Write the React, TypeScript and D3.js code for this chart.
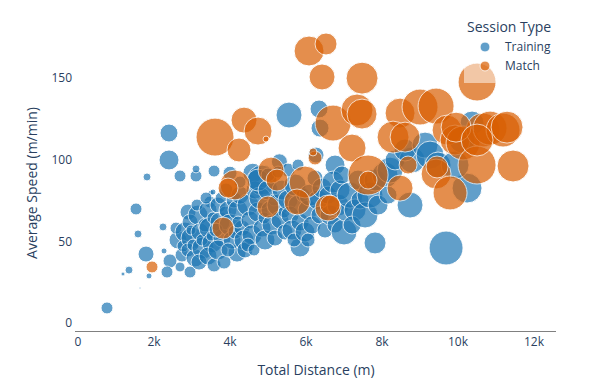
import React from 'react';
import * as d3 from 'd3';

// [total distance (m), average speed (m/min), player load]
const trainingSessions: [number, number, number][] = [
  [763, 9.5, 72], [1184, 30.3, 8], [1342, 32.7, 32], [1632, 21.7, 2], [1869, 29.1, 18],
  [1790, 42.5, 128], [1579, 54.8, 32], [1527, 70.1, 72], [1816, 89.7, 32], [2395, 116.6, 162],
  [2395, 100.1, 200], [2685, 90.3, 72], [3106, 90.3, 72], [3106, 94.6, 32], [3580, 93.3, 72],
  [3501, 79.9, 18], [2237, 59.1, 32], [2264, 44.4, 18], [2421, 38.3, 98], [2342, 31.5, 72],
  [2685, 34.6, 50], [2948, 31.5, 72], [2895, 68.2, 128], [3474, 74.4, 72], [3553, 80.5, 18],
  [5553, 127.6, 338], [6343, 131.3, 162], [6369, 119.6, 162], [7817, 49.3, 242], [9686, 46.2, 578],
  [10238, 82.9, 450], [8738, 72.5, 338], [5843, 46.8, 200], [4185, 43.1, 162], [10370, 122.7, 288],
  [6264, 103.1, 128], [6764, 97.0, 200], [4600, 92.0, 200], [5300, 99.0, 128], [4000, 92.0, 98],
  [2632, 51.1, 162], [2737, 41.9, 98], [2579, 58.4, 72], [2816, 56.0, 200], [2763, 47.4, 72],
  [2948, 62.1, 128], [3000, 52.3, 242], [2895, 45.0, 98], [3079, 40.1, 162], [3027, 48.0, 72], [2974, 57.2, 50],
  [3158, 66.4, 200], [3211, 56.0, 162], [3290, 46.2, 242], [3185, 37.6, 128], [3343, 60.3, 98], [3264, 51.1, 72], [3132, 72.5, 72],
  [3422, 69.5, 162], [3474, 58.4, 242], [3527, 49.3, 200], [3422, 41.3, 162], [3580, 35.8, 98], [3553, 64.6, 72], [3501, 53.5, 50], [3369, 76.8, 72],
  [3685, 72.5, 128], [3737, 62.1, 200], [3790, 52.3, 162], [3685, 45.0, 200], [3843, 37.6, 98], [3869, 68.2, 72], [3632, 57.2, 98], [3764, 76.8, 72],
  [3948, 69.5, 162], [4001, 60.3, 242], [4053, 51.1, 162], [3948, 45.0, 98], [4106, 75.6, 128], [4132, 56.0, 98], [3895, 81.7, 98],
  [4211, 69.5, 200], [4264, 78.6, 162], [4316, 58.4, 128], [4369, 51.1, 200], [4211, 62.1, 72], [4395, 45.0, 128], [4264, 86.6, 72],
  [4474, 72.5, 242], [4527, 63.4, 162], [4580, 54.2, 200], [4659, 81.7, 162], [4474, 48.0, 98], [4632, 45.0, 72],
  [4843, 87.8, 450], [4738, 68.2, 200], [4790, 76.8, 242], [4843, 58.4, 162], [4922, 51.1, 200], [4738, 87.8, 242], [4896, 64.6, 72],
  [5001, 81.7, 200], [5053, 69.5, 162], [5106, 60.3, 200], [5185, 52.3, 128], [5001, 90.9, 98], [5159, 75.6, 72],
  [5264, 72.5, 242], [5317, 63.4, 162], [5369, 81.7, 200], [5448, 56.0, 128], [5264, 92.7, 72], [5422, 68.2, 72],
  [5527, 75.6, 200], [5580, 66.4, 162], [5632, 57.2, 200], [5711, 84.8, 242], [5527, 93.9, 98], [5685, 51.1, 98],
  [5790, 72.5, 200], [5843, 62.1, 162], [5922, 78.6, 98], [5975, 56.0, 200], [5790, 97.0, 72],
  [6054, 69.5, 200], [6106, 78.6, 242], [6159, 60.3, 162], [6238, 89.0, 128], [6054, 51.1, 98],
  [6317, 75.6, 200], [6369, 66.4, 162], [6422, 82.9, 200], [6501, 57.2, 128],
  [6580, 78.6, 162], [6633, 66.4, 200], [6712, 86.6, 242], [6764, 60.3, 128],
  [6843, 72.5, 242], [6896, 81.7, 200], [7001, 56.0, 338], [7027, 68.2, 162], [6948, 90.9, 162],
  [7159, 78.6, 338], [7291, 69.5, 242], [7370, 87.8, 200], [7212, 60.3, 162], [7422, 75.6, 162],
  [7554, 66.4, 338], [7685, 78.6, 338], [7817, 87.8, 242], [7896, 72.5, 200],
  [8080, 90.9, 338], [8212, 93.9, 338], [8343, 100.1, 200], [8159, 78.6, 162],
  [8791, 100.1, 338], [8607, 106.2, 242],
  [9133, 109.2, 338], [9265, 103.1, 392], [9475, 97.0, 338],
  [9923, 97.0, 392], [10107, 112.3, 338],
];

const matchSessions: [number, number, number][] = [
  [1948, 34.6, 72], [3606, 114.1, 722], [4369, 124.5, 338], [4738, 117.8, 392], [4948, 112.9, 18],
  [4237, 106.2, 288], [6080, 166.8, 450], [6527, 171.1, 242], [6422, 150.9, 338], [7475, 150.2, 512],
  [6712, 122.7, 648], [7343, 130.7, 512], [7475, 128.2, 450], [8475, 128.8, 450], [9001, 132.5, 648],
  [9423, 133.1, 648], [10502, 147.8, 722], [8291, 114.1, 512], [8607, 114.1, 450], [9712, 118.4, 450],
  [9923, 112.3, 450], [10133, 110.5, 578], [10660, 118.4, 578], [10844, 119.6, 578], [11186, 118.4, 578],
  [10502, 97.0, 722], [11449, 96.4, 512], [7212, 107.4, 392], [7633, 90.9, 800], [9423, 91.5, 450],
  [9449, 95.8, 242], [9791, 79.9, 578], [8475, 82.9, 338], [8686, 97.0, 162], [7633, 87.8, 162],
  [5080, 93.9, 338], [4132, 84.8, 450], [3948, 82.9, 200], [5238, 87.8, 242], [5975, 86.6, 512],
  [5764, 74.4, 338], [5001, 71.3, 242], [6580, 70.7, 338], [3816, 58.4, 242], [6238, 101.3, 98],
  [6185, 105.0, 32], [9949, 120.2, 450], [11291, 120.2, 512], [10502, 112.3, 512], [6633, 72.5, 200],
];

const sessionTypes = ['Training', 'Match'];
const sessionColors = ['#1f77b4', '#d95f02'];
const xTicks = [0, 2000, 4000, 6000, 8000, 10000, 12000];
const yTicks = [0, 50, 100, 150];

const W = 591;
const H = 389;
const FONT = '"Open Sans", "Noto Sans", sans-serif';
const TEXT = '#2a3f5f';

export default function App() {
  const x = d3.scaleLinear().domain([-79, 12579]).range([75, 556]);
  const y = d3.scaleLinear().domain([-4.6, 176.6]).range([331, 35]);
  const r = d3.scaleSqrt().domain([0, 800]).range([0, 20]);
  const fmt = (v: number) => (v === 0 ? '0' : d3.format('~s')(v));
  const series = [trainingSessions, matchSessions];

  return (
    <div style={{ position: 'fixed', left: 0, top: 0 }}>
      <svg width={W} height={H} style={{ display: 'block', background: '#fff' }}>
        <defs>
          <clipPath id="plotclip">
            <rect x={75} y={0} width={481} height={331} />
          </clipPath>
        </defs>
        <g clipPath="url(#plotclip)">
          {series.map((pts, si) => (
            <g key={si}>
              {pts.map((d, i) => (
                <circle
                  key={i}
                  cx={x(d[0])}
                  cy={y(d[1])}
                  r={Math.max(r(d[2]), 1)}
                  fill={sessionColors[si]}
                  stroke="#fff"
                  strokeWidth={1}
                  opacity={0.7}
                />
              ))}
            </g>
          ))}
        </g>
        <line x1={75} x2={556} y1={331.5} y2={331.5} stroke="#808080" strokeWidth={1} />
        {xTicks.map((t) => (
          <text key={t} x={x(t)} y={346} textAnchor="middle" fontFamily={FONT} fontSize={12} fill={TEXT}>
            {fmt(t)}
          </text>
        ))}
        {yTicks.map((t) => (
          <text key={t} x={72} y={y(t) + 4} textAnchor="end" fontFamily={FONT} fontSize={12} fill={TEXT}>
            {t}
          </text>
        ))}
        <text x={316} y={375} textAnchor="middle" fontFamily={FONT} fontSize={14} fill={TEXT}>
          Total Distance (m)
        </text>
        <text
          transform={`translate(37,${(35 + 331) / 2}) rotate(-90)`}
          textAnchor="middle"
          fontFamily={FONT}
          fontSize={14}
          fill={TEXT}
        >
          Average Speed (m/min)
        </text>
        <g>
          <rect x={464} y={12} width={94} height={71} fill="#fff" fillOpacity={0.5} />
          <text x={467} y={32} fontFamily={FONT} fontSize={14} fill={TEXT}>
            Session Type
          </text>
          {sessionTypes.map((s, i) => (
            <g key={s}>
              <circle cx={485} cy={47 + i * 19} r={5} fill={sessionColors[i]} opacity={0.7} stroke="#fff" strokeWidth={1} />
              <text x={505} y={51 + i * 19} fontFamily={FONT} fontSize={12} fill={TEXT}>
                {s}
              </text>
            </g>
          ))}
        </g>
      </svg>
    </div>
  );
}
